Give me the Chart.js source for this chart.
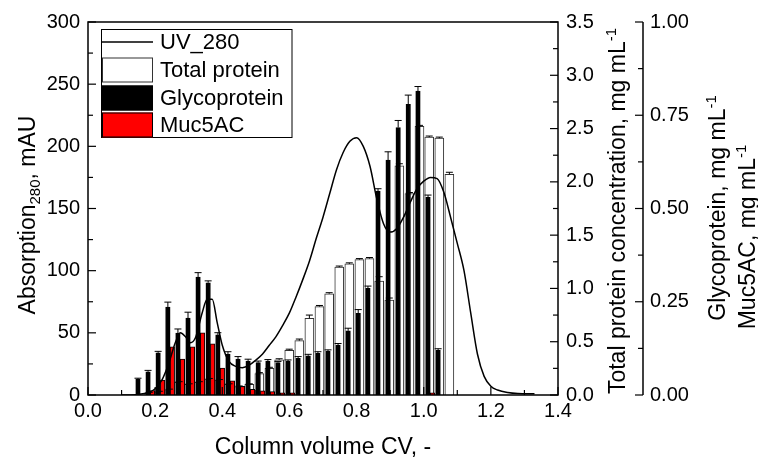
<!DOCTYPE html>
<html>
<head>
<meta charset="utf-8">
<script src="https://cdn.jsdelivr.net/npm/chart.js@4.4.1/dist/chart.umd.min.js"></script>
<style>
  html, body { margin: 0; padding: 0; background: #fff; }
</style>
</head>
<body>
<canvas id="chart" width="758" height="459"></canvas>
<script>
// fraction positions (column volume, CV)
const fractionCV = [0.169, 0.199, 0.229, 0.258, 0.288, 0.318, 0.348, 0.378, 0.407, 0.437,
  0.467, 0.497, 0.527, 0.556, 0.586, 0.616, 0.646, 0.676, 0.705, 0.735,
  0.765, 0.795, 0.825, 0.854, 0.884, 0.914, 0.944, 0.974, 1.003, 1.033, 1.063];

// total protein, mg/mL (right axis 1)
const totalProtein = [0.02, 0.03, 0.05, 0.12, 0.10, 0.12, 0.15, 0.14, 0.10, 0.08,
  0.10, 0.20, 0.25, 0.33, 0.42, 0.51, 0.72, 0.83, 0.95, 1.20,
  1.23, 1.27, 1.28, 1.07, 0.89, 2.15, 1.89, 2.52, 2.42, 2.41, 2.07];
const totalProteinErr = [0.005, 0.005, 0.005, 0.005, 0.005, 0.005, 0.005, 0.005, 0.005, 0.005,
  0.005, 0.01, 0.01, 0.01, 0.01, 0.015, 0.03, 0.01, 0.01, 0.01,
  0.01, 0.01, 0.01, 0.04, 0.02, 0.02, 0.01, 0.01, 0.01, 0.01, 0.02];

// glycoprotein and Muc5AC, mg/mL (right axis 2)
const glycoprotein = [0.042, 0.062, 0.113, 0.236, 0.166, 0.206, 0.316, 0.301, 0.161, 0.110,
  0.096, 0.091, 0.087, 0.091, 0.087, 0.090, 0.098, 0.105, 0.112, 0.117,
  0.134, 0.172, 0.219, 0.286, 0.547, 0.630, 0.717, 0.779, 0.815, 0.530, 0.120];
const glycoproteinErr = [0.003, 0.004, 0.004, 0.013, 0.011, 0.016, 0.012, 0.005, 0.006, 0.006,
  0.007, 0.005, 0.004, 0.004, 0.003, 0.004, 0.005, 0.004, 0.004, 0.004,
  0.004, 0.007, 0.010, 0.006, 0.006, 0.022, 0.019, 0.025, 0.012, 0.006, 0.004];
const muc5ac = [0, 0.012, 0.040, 0.129, 0.096, 0.129, 0.167, 0.137, 0.072, 0.038,
  0.023, 0.015, 0.011, 0.009, 0.006, 0.006, 0, 0, 0, 0,
  0, 0, 0, 0, 0, 0, 0, 0, 0, 0.006, 0];

// UV 280 nm trace
const uvCV = [0.10, 0.15, 0.18, 0.20, 0.22, 0.24, 0.26, 0.275, 0.29, 0.305, 0.32, 0.34, 0.355, 0.37,
  0.385, 0.40, 0.42, 0.44, 0.46, 0.48, 0.50, 0.52, 0.54, 0.56, 0.58, 0.60, 0.62, 0.64, 0.66, 0.68,
  0.70, 0.72, 0.74, 0.76, 0.78, 0.80, 0.82, 0.84, 0.86, 0.88, 0.90, 0.92, 0.94, 0.96, 0.98, 1.00,
  1.02, 1.04, 1.06, 1.08, 1.10, 1.12, 1.14, 1.16, 1.18, 1.20, 1.22, 1.25, 1.28, 1.33];
const uvMAU = [0, 0.5, 2, 5, 12, 25, 42, 50, 47, 42, 46, 66, 77, 77,
  58, 40, 27, 23, 22, 24, 28, 33, 40, 47, 56, 66, 79, 93, 108, 126,
  143, 162, 181, 195, 204, 207, 200, 184, 158, 138, 131, 134, 143, 155, 166, 172,
  175, 174, 163, 143, 122, 100, 66, 33, 15, 7, 4, 2, 1.2, 1];

const FONT = '"Liberation Sans", Arial, sans-serif';

const pts = (xs, ys) => xs.map((x, i) => ({ x: x, y: ys[i] }));

// inward ticks, frame and second right axis line
const framePlugin = {
  id: 'frame',
  afterDraw(chart) {
    const ctx = chart.ctx;
    const a = chart.chartArea;
    const s = chart.scales;
    ctx.save();
    ctx.strokeStyle = '#000';
    ctx.lineWidth = 1.5;
    ctx.strokeRect(a.left, a.top, a.right - a.left, a.bottom - a.top);

    const glyX = s.yGly.left;
    ctx.beginPath();
    ctx.moveTo(glyX, s.yGly.getPixelForValue(1));
    ctx.lineTo(glyX, s.yGly.getPixelForValue(0));
    ctx.stroke();

    const majMin = (scale) => {
      const v = scale.ticks.map(t => t.value);
      const mid = [];
      for (let i = 0; i < v.length - 1; i++) mid.push((v[i] + v[i + 1]) / 2);
      return [v, mid];
    };
    ctx.lineWidth = 1.2;
    const tick = (scale, horiz, base, dir) => {
      const [maj, mid] = majMin(scale);
      [[maj, 8], [mid, 5]].forEach(([vals, len]) => {
        vals.forEach(v => {
          const p = scale.getPixelForValue(v);
          ctx.beginPath();
          if (horiz) { ctx.moveTo(p, base); ctx.lineTo(p, base + dir * len); }
          else { ctx.moveTo(base, p); ctx.lineTo(base + dir * len, p); }
          ctx.stroke();
        });
      });
    };
    tick(s.x, true, a.bottom, -1);
    tick(s.y, false, a.left, 1);
    tick(s.yTotal, false, a.right, -1);
    tick(s.yGly, false, glyX, -1);
    ctx.restore();
  }
};

// error bar caps on top of glycoprotein and total protein bars
const errorPlugin = {
  id: 'errors',
  afterDatasetsDraw(chart) {
    const ctx = chart.ctx;
    ctx.save();
    ctx.lineWidth = 1;
    ctx.strokeStyle = '#000';
    const caps = (dsIndex, errs, scaleId) => {
      const meta = chart.getDatasetMeta(dsIndex);
      const sc = chart.scales[scaleId];
      meta.data.forEach((bar, i) => {
        const v = chart.data.datasets[dsIndex].data[i].y;
        const yTop = sc.getPixelForValue(v + errs[i]);
        ctx.beginPath();
        ctx.moveTo(bar.x, bar.y);
        ctx.lineTo(bar.x, yTop);
        ctx.moveTo(bar.x - 3.5, yTop);
        ctx.lineTo(bar.x + 3.5, yTop);
        ctx.stroke();
      });
    };
    caps(1, totalProteinErr, 'yTotal');
    caps(2, glycoproteinErr, 'yGly');
    ctx.restore();
  }
};

function richText(ctx, parts, cx, cy, angle) {
  ctx.save();
  ctx.translate(cx, cy);
  ctx.rotate(angle);
  ctx.fillStyle = '#000';
  ctx.textAlign = 'left';
  ctx.textBaseline = 'alphabetic';
  let total = 0;
  parts.forEach(p => {
    ctx.font = p.size + 'px ' + FONT;
    p.w = ctx.measureText(p.text).width;
    total += p.w;
  });
  let x = -total / 2;
  parts.forEach(p => {
    ctx.font = p.size + 'px ' + FONT;
    ctx.fillText(p.text, x, 8 + (p.dy || 0));
    x += p.w;
  });
  ctx.restore();
}

const titlePlugin = {
  id: 'titles',
  afterDraw(chart) {
    const ctx = chart.ctx;
    const T = 23, S = 15;
    const up = -Math.PI / 2;
    richText(ctx, [{ text: 'Column volume CV, -', size: T }], 323, 446, 0);
    richText(ctx, [{ text: 'Absorption', size: T }, { text: '280', size: S, dy: 5 },
      { text: ', mAU', size: T }], 27, 215, up);
    richText(ctx, [{ text: 'Total protein concentration, mg mL', size: T },
      { text: '-1', size: S, dy: -9 }], 617, 211, up);
    richText(ctx, [{ text: 'Glycoprotein, mg mL', size: T },
      { text: '-1', size: S, dy: -9 }], 717, 208, up);
    richText(ctx, [{ text: 'Muc5AC, mg mL', size: T },
      { text: '-1', size: S, dy: -9 }], 747, 237, up);
  }
};

// legend box inside the plot
const legendPlugin = {
  id: 'boxLegend',
  afterDraw(chart) {
    const ctx = chart.ctx;
    const ds = chart.data.datasets;
    ctx.save();
    ctx.fillStyle = '#fff';
    ctx.fillRect(101.5, 29.5, 190.5, 108);
    ctx.strokeStyle = '#000';
    ctx.lineWidth = 1;
    ctx.strokeRect(101.5, 29.5, 190.5, 108);
    const rows = [42, 70, 98, 125];
    ds.forEach((d, i) => {
      const cy = rows[i];
      if (d.type === 'line') {
        ctx.strokeStyle = d.borderColor;
        ctx.lineWidth = 1.5;
        ctx.beginPath();
        ctx.moveTo(102, cy);
        ctx.lineTo(153, cy);
        ctx.stroke();
      } else {
        ctx.fillStyle = d.backgroundColor;
        ctx.fillRect(102, cy - 12.5, 51, 25);
        ctx.strokeStyle = d.borderColor;
        ctx.lineWidth = 1;
        ctx.strokeRect(102.5, cy - 12, 50, 24);
      }
      ctx.fillStyle = '#000';
      ctx.font = '22px ' + FONT;
      ctx.textBaseline = 'middle';
      ctx.textAlign = 'left';
      ctx.fillText(d.label, 160, cy + 1);
    });
    ctx.restore();
  }
};

const tickFont = { family: FONT, size: 20 };
const noGrid = { display: false, drawTicks: false };

new Chart(document.getElementById('chart').getContext('2d'), {
  type: 'bar',
  data: {
    datasets: [
      {
        type: 'line',
        label: 'UV_280',
        data: pts(uvCV, uvMAU),
        xAxisID: 'x',
        yAxisID: 'y',
        borderColor: '#000',
        borderWidth: 1.5,
        pointRadius: 0,
        fill: false,
        cubicInterpolationMode: 'monotone',
        order: 0
      },
      {
        label: 'Total protein',
        data: pts(fractionCV, totalProtein),
        xAxisID: 'xw',
        yAxisID: 'yTotal',
        backgroundColor: '#fff',
        borderColor: '#333',
        borderWidth: 1,
        barThickness: 9,
        order: 3
      },
      {
        label: 'Glycoprotein',
        data: pts(fractionCV, glycoprotein),
        xAxisID: 'x',
        yAxisID: 'yGly',
        backgroundColor: '#000',
        borderColor: '#000',
        borderWidth: 1,
        barThickness: 4.5,
        order: 1
      },
      {
        label: 'Muc5AC',
        data: pts(fractionCV, muc5ac),
        xAxisID: 'x',
        yAxisID: 'yGly',
        backgroundColor: '#ff0000',
        borderColor: '#000',
        borderWidth: 1,
        barThickness: 4.5,
        order: 2
      }
    ]
  },
  options: {
    responsive: false,
    animation: false,
    devicePixelRatio: 1,
    layout: { padding: { top: 22, left: 0, right: 0, bottom: 0 } },
    plugins: { legend: { display: false }, tooltip: { enabled: false } },
    scales: {
      x: {
        type: 'linear', position: 'bottom', min: 0, max: 1.4, offset: false,
        grid: noGrid, border: { display: false },
        ticks: { stepSize: 0.2, font: tickFont, color: '#000', padding: 4, maxRotation: 0, autoSkip: false,
          callback: v => v.toFixed(1) },
        afterFit: s => { s.height = 64; }
      },
      xw: {
        type: 'linear', display: false, min: 0, max: 1.4, offset: false
      },
      y: {
        type: 'linear', position: 'left', min: 0, max: 300,
        grid: noGrid, border: { display: false },
        ticks: { stepSize: 50, font: tickFont, color: '#000', padding: 8 },
        afterFit: s => { s.width = 88; }
      },
      yTotal: {
        type: 'linear', position: 'right', min: 0, max: 3.5, weight: 1,
        grid: noGrid, border: { display: false },
        ticks: { stepSize: 0.5, font: tickFont, color: '#000', padding: 8,
          callback: v => v.toFixed(1) },
        afterFit: s => { s.width = 85; }
      },
      yGly: {
        type: 'linear', position: 'right', min: 0, max: 1, weight: 2,
        grid: noGrid, border: { display: false },
        ticks: { stepSize: 0.25, font: tickFont, color: '#000', padding: 7,
          callback: v => v.toFixed(2) },
        afterFit: s => { s.width = 115; }
      }
    }
  },
  plugins: [errorPlugin, framePlugin, titlePlugin, legendPlugin]
});
</script>
</body>
</html>
